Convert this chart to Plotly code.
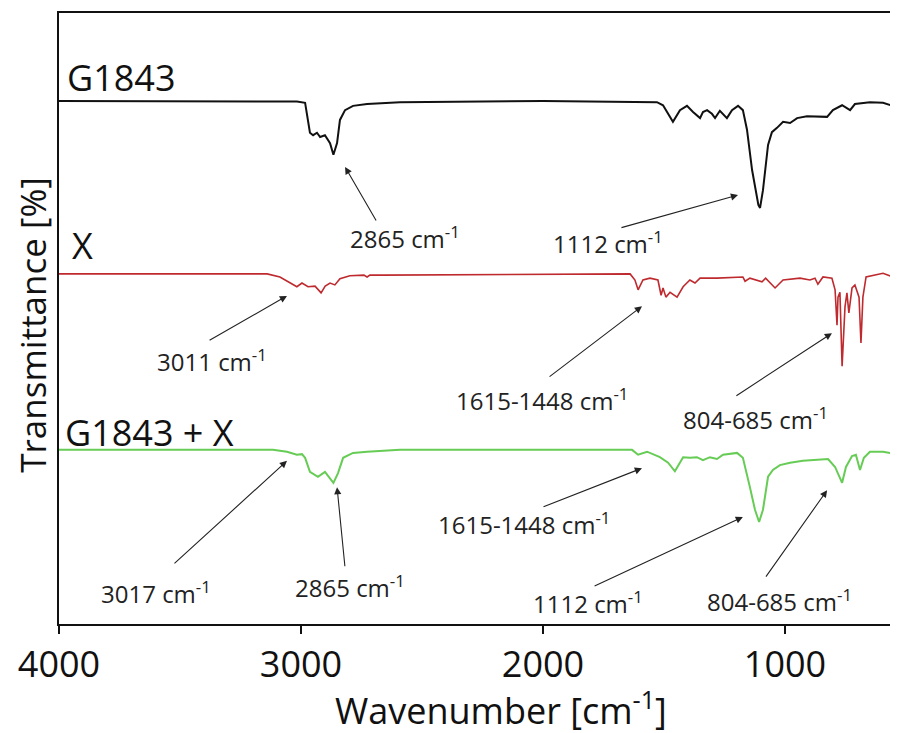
import plotly.graph_objects as go

# wavenumbers [cm-1] and offset transmittance values for each spectrum
g1843_wn = [4000, 3500, 3100, 3017, 2983, 2971, 2963, 2950, 2934, 2921, 2901, 2880, 2866, 2851,
            2839, 2818, 2785, 2727, 2591, 2000, 1600, 1529, 1504, 1463, 1434, 1405, 1380, 1351,
            1339, 1322, 1302, 1289, 1269, 1240, 1219, 1194, 1174, 1157, 1136, 1125, 1116, 1110,
            1103, 1091, 1070, 1054, 1033, 1008, 979, 950, 909, 868, 826, 802, 764, 731, 711,
            649, 595, 537]
g1843_t = [85.6, 85.6, 85.6, 85.5, 85.3, 82.5, 80.4, 80.0, 80.4, 79.7, 80.0, 78.7, 76.8, 78.7,
           82.5, 84.1, 84.8, 85.1, 85.4, 85.6, 85.5, 85.4, 84.9, 82.2, 84.1, 84.8, 83.8, 82.8,
           83.8, 84.1, 83.5, 82.8, 84.0, 82.8, 84.1, 84.8, 84.1, 80.9, 74.3, 71.8, 69.4, 68.6,
           68.1, 71.0, 78.4, 80.5, 81.2, 82.2, 82.0, 82.8, 83.1, 83.1, 83.0, 84.1, 84.9, 84.1, 85.1,
           85.4, 85.3, 84.6]

x_wn = [4000, 3140, 3087, 3045, 3017, 2996, 2971, 2942, 2917, 2900, 2880, 2860, 2839, 2798,
        2740, 2727, 2715, 2661, 1700, 1640, 1620, 1607, 1587, 1558, 1525, 1512, 1504, 1492,
        1475, 1446, 1421, 1393, 1372, 1351, 1281, 1174, 1165, 1145, 1095, 1080, 1041, 1008,
        938, 897, 876, 864, 843, 806, 793, 785, 781, 773, 764, 752, 744, 736, 723, 711, 694,
        686, 678, 665, 595, 554, 533]
x_t = [57.3, 57.3, 56.8, 55.8, 55.2, 55.8, 55.2, 55.3, 54.2, 55.3, 55.8, 55.5, 56.5, 57.0,
       57.1, 56.8, 57.1, 57.1, 57.3, 57.3, 56.3, 54.7, 56.3, 56.6, 56.3, 53.8, 55.0, 53.5,
       54.3, 53.5, 55.2, 56.3, 55.8, 56.6, 56.6, 56.8, 56.1, 56.6, 56.0, 56.6, 55.0, 56.3,
       56.6, 56.3, 56.6, 55.6, 56.8, 56.6, 54.7, 48.9, 53.5, 54.3, 42.2, 51.9, 54.2, 50.9,
       55.0, 55.5, 53.5, 46.0, 53.5, 56.8, 57.4, 56.8, 57.3]

mix_wn = [4000, 3116, 3058, 3017, 2996, 2983, 2963, 2930, 2901, 2866, 2847, 2826, 2785, 2727,
          2591, 1640, 1632, 1607, 1570, 1517, 1483, 1455, 1421, 1393, 1364, 1339, 1310, 1281,
          1256, 1198, 1174, 1145, 1124, 1107, 1091, 1070, 1050, 1021, 979, 926, 868, 822, 793,
          781, 764, 748, 723, 707, 690, 674, 649, 595, 537]
mix_t = [28.5, 28.5, 28.2, 27.7, 27.8, 27.2, 24.9, 24.1, 24.9, 23.1, 24.7, 27.2, 28.0, 28.2,
         28.5, 28.5, 28.5, 27.7, 28.2, 27.3, 26.4, 25.0, 27.3, 27.2, 27.3, 26.8, 27.3, 27.0,
         27.7, 28.0, 27.2, 22.4, 18.7, 16.7, 18.7, 24.1, 25.2, 26.0, 26.4, 26.7, 26.8, 27.0, 25.7,
         24.7, 23.1, 25.7, 27.5, 27.7, 25.2, 27.2, 28.2, 28.2, 27.8]

# sample labels: text, x, y
sample_names = ["G1843", "X", "G1843 + X"]
sample_x = [3975, 3955, 3983]
sample_y = [89.4, 62.0, 31.4]

# peak labels: text, arrow head (x, y), arrow tail (x, y), text centre (x, y)
peak_text = ["2865 cm<sup>-1</sup>", "1112 cm<sup>-1</sup>", "3011 cm<sup>-1</sup>",
             "1615-1448 cm<sup>-1</sup>", "804-685 cm<sup>-1</sup>", "3017 cm<sup>-1</sup>",
             "2865 cm<sup>-1</sup>", "1615-1448 cm<sup>-1</sup>", "1112 cm<sup>-1</sup>",
             "804-685 cm<sup>-1</sup>"]
head_x = [2818, 1194, 3058, 1591, 806, 3058, 2851, 1591, 1174, 826]
head_y = [74.8, 70.2, 53.7, 52.0, 47.6, 26.7, 22.4, 25.5, 17.5, 21.9]
tail_x = [2686, 1682, 3384, 1979, 1207, 3529, 2818, 2004, 1793, 1083]
tail_y = [65.8, 64.8, 46.3, 40.3, 37.2, 9.7, 9.2, 19.1, 6.1, 7.5]
text_x = [2570, 1731, 3368, 2004, 1120, 3599, 2798, 2079, 1814, 1021]
text_y = [63.2, 62.5, 43.2, 36.7, 33.7, 5.2, 6.1, 16.5, 3.6, 3.9]

font = "Open Sans"

fig = go.Figure()
fig.add_trace(go.Scatter(x=g1843_wn, y=g1843_t, mode="lines",
                         line=dict(color="#111111", width=2)))
fig.add_trace(go.Scatter(x=x_wn, y=x_t, mode="lines",
                         line=dict(color="#BE2A2E", width=1.6)))
fig.add_trace(go.Scatter(x=mix_wn, y=mix_t, mode="lines",
                         line=dict(color="#66CC55", width=2)))

annotations = []
for name, sx, sy in zip(sample_names, sample_x, sample_y):
    annotations.append(dict(x=sx, y=sy, xref="x", yref="y", text=name, showarrow=False,
                            xanchor="left", yanchor="middle",
                            font=dict(family=font, size=36, color="#111111")))

for i in range(len(peak_text)):
    # arrow only
    annotations.append(dict(x=head_x[i], y=head_y[i], ax=tail_x[i], ay=tail_y[i],
                            xref="x", yref="y", axref="x", ayref="y", text="",
                            showarrow=True, arrowhead=2, arrowsize=1.3, arrowwidth=1.1,
                            arrowcolor="#222222", standoff=0, startstandoff=0))
    # label
    annotations.append(dict(x=text_x[i], y=text_y[i], xref="x", yref="y", text=peak_text[i],
                            showarrow=False, xanchor="center", yanchor="middle",
                            font=dict(family=font, size=24, color="#222222")))

# axis titles
annotations.append(dict(x=0.527, y=-0.139, xref="paper", yref="paper",
                        text="Wavenumber [cm<sup>-1</sup>]", showarrow=False,
                        xanchor="center", yanchor="middle",
                        font=dict(family=font, size=36, color="#111111")))
annotations.append(dict(x=-0.032, y=0.490, xref="paper", yref="paper",
                        text="Transmittance [%]", showarrow=False, textangle=-90,
                        xanchor="center", yanchor="middle",
                        font=dict(family=font, size=35, color="#111111")))

# the page adds an 8px body margin, so the figure is 8px smaller and the margins shifted
fig.update_layout(
    width=890, height=725,
    margin=dict(l=51, r=0, t=5, b=109),
    plot_bgcolor="white", paper_bgcolor="white",
    showlegend=False,
    annotations=annotations,
)
fig.update_xaxes(range=[4000, 533], tickvals=[4000, 3000, 2000, 1000],
                 ticks="outside", ticklen=8, tickwidth=1.5, tickcolor="#111111",
                 showline=True, linecolor="#111111", linewidth=1.5, mirror=True,
                 showgrid=False, zeroline=False,
                 tickfont=dict(family=font, size=36, color="#111111"))
fig.update_yaxes(range=[0, 100], showticklabels=False, ticks="",
                 showline=True, linecolor="#111111", linewidth=1.5,
                 showgrid=False, zeroline=False)

fig.write_html("out.html")
